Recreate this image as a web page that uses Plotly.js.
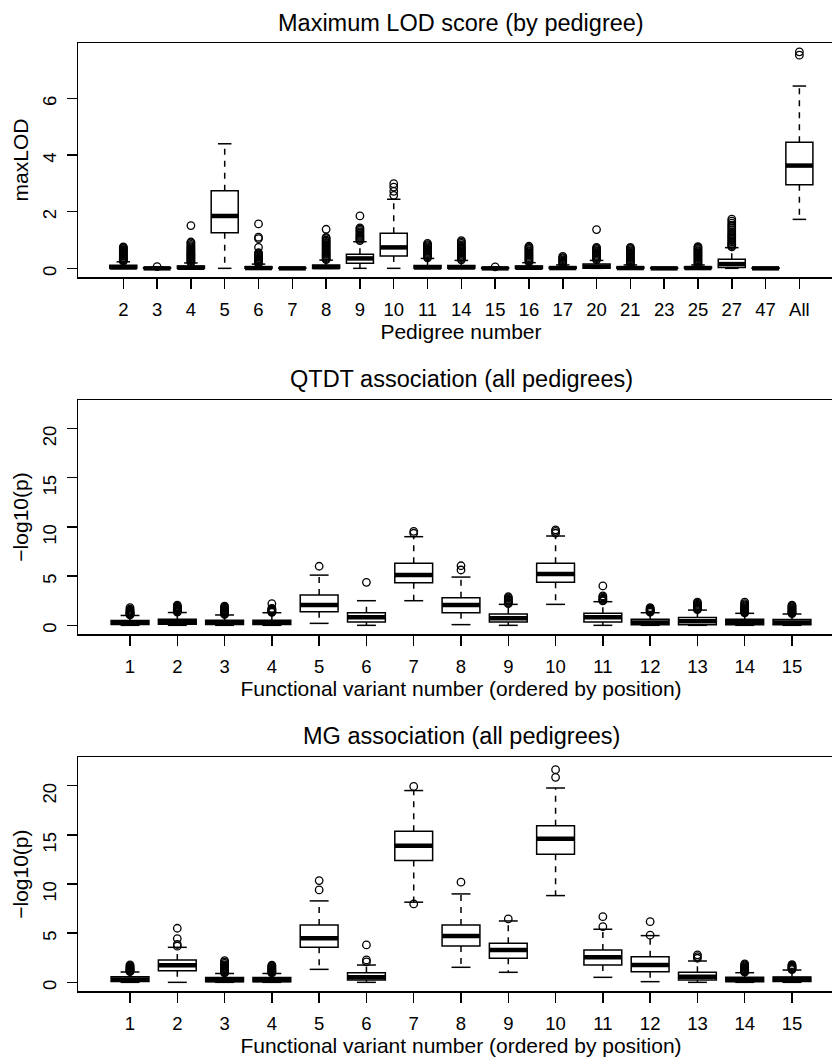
<!DOCTYPE html>
<html>
<head>
<meta charset="utf-8">
<script src="https://cdn.plot.ly/plotly-3.0.1.min.js"></script>
<style>
  html, body { margin: 0; padding: 0; background: #ffffff; overflow: hidden; }
  #chart { width: 880px; height: 1060px; }
</style>
</head>
<body>
<div id="chart"></div>
<script>
// ---------- Panel 1: Maximum LOD score (by pedigree) ----------
const lodCats = ["2","3","4","5","6","7","8","9","10","11","14","15","16","17","20","21","23","25","27","47","All"];
const lodQ1  = [0, 0, 0, 1.26, 0, 0, 0, 0.18, 0.44, 0, 0, 0, 0, 0, 0, 0, 0, 0, 0.03, 0, 2.95];
const lodMed = [0.03, 0, 0.02, 1.85, 0.01, 0, 0.04, 0.35, 0.74, 0.03, 0.03, 0, 0.02, 0.01, 0.06, 0.01, 0, 0.01, 0.15, 0, 3.63];
const lodQ3  = [0.11, 0.02, 0.08, 2.74, 0.06, 0.01, 0.12, 0.5, 1.24, 0.1, 0.1, 0.02, 0.08, 0.05, 0.15, 0.05, 0.01, 0.05, 0.32, 0.01, 4.45];
const lodLo  = [0, 0, 0, 0, 0, 0, 0, 0, 0, 0, 0, 0, 0, 0, 0, 0, 0, 0, 0, 0, 1.73];
const lodHi  = [0.23, 0.05, 0.19, 4.4, 0.15, 0.02, 0.29, 0.94, 2.44, 0.35, 0.28, 0.05, 0.2, 0.12, 0.28, 0.12, 0.02, 0.12, 0.73, 0.02, 6.44];
const lodOut = [
  [0.25,0.27,0.3,0.33,0.35,0.38,0.42,0.45,0.47,0.5,0.54,0.57,0.6,0.63,0.66,0.7,0.73,0.76],
  [0.06],
  [0.21,0.24,0.27,0.31,0.34,0.37,0.4,0.44,0.47,0.5,0.53,0.57,0.6,0.64,0.68,0.72,0.76,0.8,0.85,0.9,0.93,1.51],
  [],
  [0.17,0.2,0.23,0.26,0.3,0.33,0.36,0.4,0.44,0.48,0.52,0.55,0.74,1.05,1.1,1.57],
  [],
  [0.31,0.34,0.38,0.41,0.45,0.49,0.52,0.56,0.6,0.64,0.68,0.72,0.76,0.8,0.84,0.88,0.92,0.96,1.0,1.05,1.09,1.38],
  [0.98,1.02,1.06,1.1,1.14,1.19,1.24,1.29,1.34,1.39,1.43,1.85],
  [2.58,2.72,2.87,2.99],
  [0.37,0.4,0.44,0.48,0.52,0.56,0.6,0.64,0.68,0.72,0.76,0.8,0.84,0.88],
  [0.3,0.34,0.38,0.42,0.46,0.5,0.54,0.58,0.62,0.66,0.7,0.74,0.78,0.83,0.88,0.93,0.98],
  [0.05],
  [0.22,0.26,0.3,0.34,0.38,0.42,0.46,0.5,0.54,0.58,0.62,0.66,0.7,0.74,0.78],
  [0.14,0.18,0.22,0.26,0.3,0.34,0.38,0.42],
  [0.3,0.34,0.38,0.42,0.46,0.5,0.54,0.58,0.62,0.66,0.7,0.74,1.37],
  [0.14,0.18,0.22,0.26,0.3,0.34,0.38,0.42,0.46,0.5,0.54,0.58,0.62,0.66,0.7,0.74],
  [],
  [0.14,0.18,0.22,0.26,0.3,0.34,0.38,0.42,0.46,0.5,0.54,0.58,0.62,0.66,0.7,0.74,0.77],
  [0.76,0.8,0.84,0.88,0.93,0.98,1.03,1.08,1.13,1.18,1.23,1.29,1.35,1.41,1.47,1.53,1.6,1.67,1.74],
  [],
  [7.53,7.65]
];

// ---------- Panel 2: QTDT association (all pedigrees) ----------
const varCats = ["1","2","3","4","5","6","7","8","9","10","11","12","13","14","15"];
const qtQ1  = [0.08,0.1,0.08,0.08,1.38,0.34,4.33,1.28,0.34,4.37,0.34,0.05,0.05,0.05,0.05];
const qtMed = [0.27,0.32,0.27,0.27,2.06,0.81,5.11,2.06,0.71,5.2,0.81,0.3,0.42,0.32,0.3];
const qtQ3  = [0.5,0.62,0.52,0.52,3.08,1.28,6.3,2.8,1.15,6.3,1.22,0.62,0.8,0.62,0.58];
const qtLo  = [0,0,0,0,0.2,0,2.5,0.07,0,2.13,0,0,0,0,0];
const qtHi  = [1.0,1.3,1.05,1.28,5.1,2.5,9.0,4.9,2.13,9.07,2.4,1.28,1.55,1.22,1.15];
const qtOut = [
  [1.05,1.1,1.15,1.2,1.25,1.3,1.36,1.45,1.55,1.65,1.8],
  [1.35,1.4,1.45,1.5,1.55,1.6,1.65,1.7,1.78,1.86,1.95,2.05],
  [1.1,1.15,1.2,1.25,1.3,1.36,1.42,1.48,1.55,1.62,1.7,1.78,1.86,1.95],
  [1.32,1.37,1.42,1.48,1.54,1.6,1.66,1.73,2.2],
  [6.0],
  [4.37],
  [9.35,9.55],
  [5.62,6.05],
  [2.2,2.27,2.35,2.45,2.55,2.65,2.78,2.9],
  [9.35,9.55,9.7],
  [2.48,2.56,2.66,2.76,2.88,3.0,4.0],
  [1.33,1.4,1.46,1.52,1.58,1.65,1.72,1.8],
  [1.6,1.66,1.72,1.8,1.88,1.96,2.05,2.15,2.25,2.35],
  [1.27,1.33,1.4,1.47,1.54,1.62,1.7,1.78,1.88,1.98,2.08,2.2,2.35],
  [1.2,1.26,1.32,1.38,1.45,1.52,1.6,1.68,1.77,1.87,1.97,2.05]
];

// ---------- Panel 3: MG association (all pedigrees) ----------
const mgQ1  = [0.08,1.18,0.05,0.05,3.56,0.24,12.38,3.7,2.44,13.03,1.76,1.08,0.23,0.05,0.08];
const mgMed = [0.3,1.73,0.25,0.25,4.48,0.51,13.88,4.71,3.29,14.59,2.54,1.76,0.57,0.3,0.35];
const mgQ3  = [0.57,2.27,0.48,0.5,5.83,0.98,15.37,5.83,3.97,15.92,3.29,2.6,1.02,0.51,0.55];
const mgLo  = [0,0,0,0,1.32,0,8.15,1.53,1.02,8.82,0.51,0.07,0,0,0];
const mgHi  = [1.05,3.56,0.9,0.9,8.28,1.76,19.5,8.99,6.24,19.76,5.4,4.75,2.17,0.98,1.25];
const mgOut = [
  [1.1,1.15,1.2,1.26,1.32,1.38,1.45,1.52,1.6,1.68,1.78],
  [3.68,3.85,4.45,5.5],
  [0.95,1.0,1.06,1.12,1.2,1.28,1.36,1.45,1.55,1.66,1.78,1.92,2.05,2.2],
  [0.95,1.0,1.06,1.12,1.18,1.25,1.32,1.4,1.48,1.57,1.66,1.75],
  [9.4,10.35],
  [2.08,2.28,3.8],
  [7.97,19.92],
  [10.18],
  [6.45],
  [20.84,21.62],
  [5.66,6.68],
  [4.8,6.17],
  [2.45,2.62,2.8],
  [1.03,1.08,1.14,1.2,1.27,1.34,1.42,1.5,1.58,1.67,1.77,1.88],
  [1.3,1.36,1.42,1.49,1.56,1.64,1.72,1.8]
];

// ---------- Text ----------
const titles  = ["Maximum LOD score (by pedigree)", "QTDT association (all pedigrees)", "MG association (all pedigrees)"];
const xTitles = ["Pedigree number", "Functional variant number (ordered by position)", "Functional variant number (ordered by position)"];
const yTitles = ["maxLOD", "\u2212log10(p)", "\u2212log10(p)"];

// ---------- Build ----------
const FONT = "Liberation Sans, Arial, Helvetica, sans-serif";
const panels = [
  {cats: lodCats, q1: lodQ1, med: lodMed, q3: lodQ3, lo: lodLo, hi: lodHi, out: lodOut, xa: 'x',  ya: 'y'},
  {cats: varCats, q1: qtQ1,  med: qtMed,  q3: qtQ3,  lo: qtLo,  hi: qtHi,  out: qtOut,  xa: 'x2', ya: 'y2'},
  {cats: varCats, q1: mgQ1,  med: mgMed,  q3: mgQ3,  lo: mgLo,  hi: mgHi,  out: mgOut,  xa: 'x3', ya: 'y3'}
];

const BOXW = 0.8, STAPLE = 0.2, LW = 1.5;
const traces = [];
panels.forEach(p => {
  const pos = p.cats.map((c, i) => i + 1);
  const wx = [], wy = [];
  const sx = [], sy = [];
  const mx = [], my = [];
  const ox = [], oy = [];
  pos.forEach((x, i) => {
    wx.push(x, x, null, x, x, null);
    wy.push(p.q3[i], p.hi[i], null, p.q1[i], p.lo[i], null);
    sx.push(x - STAPLE, x + STAPLE, null, x - STAPLE, x + STAPLE, null);
    sy.push(p.hi[i], p.hi[i], null, p.lo[i], p.lo[i], null);
    mx.push(x - BOXW / 2, x + BOXW / 2, null);
    my.push(p.med[i], p.med[i], null);
    p.out[i].forEach(v => { ox.push(x); oy.push(v); });
  });
  traces.push({type: 'scatter', mode: 'lines', x: wx, y: wy, xaxis: p.xa, yaxis: p.ya,
    line: {color: '#000', width: LW, dash: '6px,6px'}, hoverinfo: 'skip', showlegend: false});
  traces.push({type: 'scatter', mode: 'lines', x: sx, y: sy, xaxis: p.xa, yaxis: p.ya,
    line: {color: '#000', width: LW}, hoverinfo: 'skip', showlegend: false});
  traces.push({type: 'box', x: pos, q1: p.q1, median: p.med, q3: p.q3,
    lowerfence: p.q1, upperfence: p.q3, width: BOXW, whiskerwidth: 0,
    boxpoints: false, fillcolor: '#ffffff', line: {color: '#000', width: LW},
    xaxis: p.xa, yaxis: p.ya, hoverinfo: 'skip', showlegend: false});
  traces.push({type: 'scatter', mode: 'lines', x: mx, y: my, xaxis: p.xa, yaxis: p.ya,
    line: {color: '#000', width: 4.5}, hoverinfo: 'skip', showlegend: false});
  traces.push({type: 'scatter', mode: 'markers', x: ox, y: oy, xaxis: p.xa, yaxis: p.ya,
    marker: {symbol: 'circle-open', size: 7.5, color: '#000', line: {color: '#000', width: 1.3}},
    hoverinfo: 'skip', showlegend: false});
});

const H = 1060;
const frac = px => 1 - px / H;

function xAxis(cats, range, anchor, title) {
  return {
    domain: [0, 1], anchor: anchor, range: range,
    tickmode: 'array', tickvals: cats.map((c, i) => i + 1), ticktext: cats,
    ticks: 'outside', ticklen: 10, tickwidth: LW, tickcolor: '#000',
    showline: true, linecolor: '#000', linewidth: LW, mirror: true,
    showgrid: false, zeroline: false,
    tickfont: {family: FONT, size: 18.5, color: '#000'}, ticklabelstandoff: 5,
    title: {text: title, font: {family: FONT, size: 21, color: '#000'}, standoff: 5}
  };
}
function yAxis(domain, range, tickvals, anchor, title) {
  return {
    domain: domain, anchor: anchor, range: range,
    tickmode: 'array', tickvals: tickvals, ticktext: tickvals.map(String), tickangle: -89.9,
    ticks: 'outside', ticklen: 10, tickwidth: LW, tickcolor: '#000',
    showline: true, linecolor: '#000', linewidth: LW, mirror: true,
    showgrid: false, zeroline: false,
    tickfont: {family: FONT, size: 18.5, color: '#000'}, ticklabelstandoff: 16,
    title: {text: title, font: {family: FONT, size: 21, color: '#000'}, standoff: 4}
  };
}

const layout = {
  width: 880, height: H,
  margin: {l: 78, r: 36, t: 0, b: 0},
  paper_bgcolor: '#ffffff', plot_bgcolor: '#ffffff',
  font: {family: FONT, color: '#000'},
  showlegend: false,
  xaxis:  xAxis(lodCats, [-0.34, 22.32], 'y',  xTitles[0]),
  xaxis2: xAxis(varCats, [-0.1, 16.1],  'y2', xTitles[1]),
  xaxis3: xAxis(varCats, [-0.1, 16.1],  'y3', xTitles[2]),
  yaxis:  yAxis([frac(277), frac(43)],  [-0.306, 7.96], [0, 2, 4, 6],        'x',  yTitles[0]),
  yaxis2: yAxis([frac(634), frac(400)], [-0.88, 22.88], [0, 5, 10, 15, 20],  'x2', yTitles[1]),
  yaxis3: yAxis([frac(991), frac(757.3)], [-0.88, 22.88], [0, 5, 10, 15, 20], 'x3', yTitles[2]),
  annotations: titles.map((t, i) => ({
    text: t, xref: 'paper', yref: 'paper', x: 0.5, xanchor: 'center',
    y: frac([22.5, 378.7, 736][i]), yanchor: 'middle', showarrow: false,
    font: {family: FONT, size: 23.5, color: '#000'}
  }))
};

Plotly.newPlot('chart', traces, layout, {staticPlot: true, displayModeBar: false});
</script>
</body>
</html>
